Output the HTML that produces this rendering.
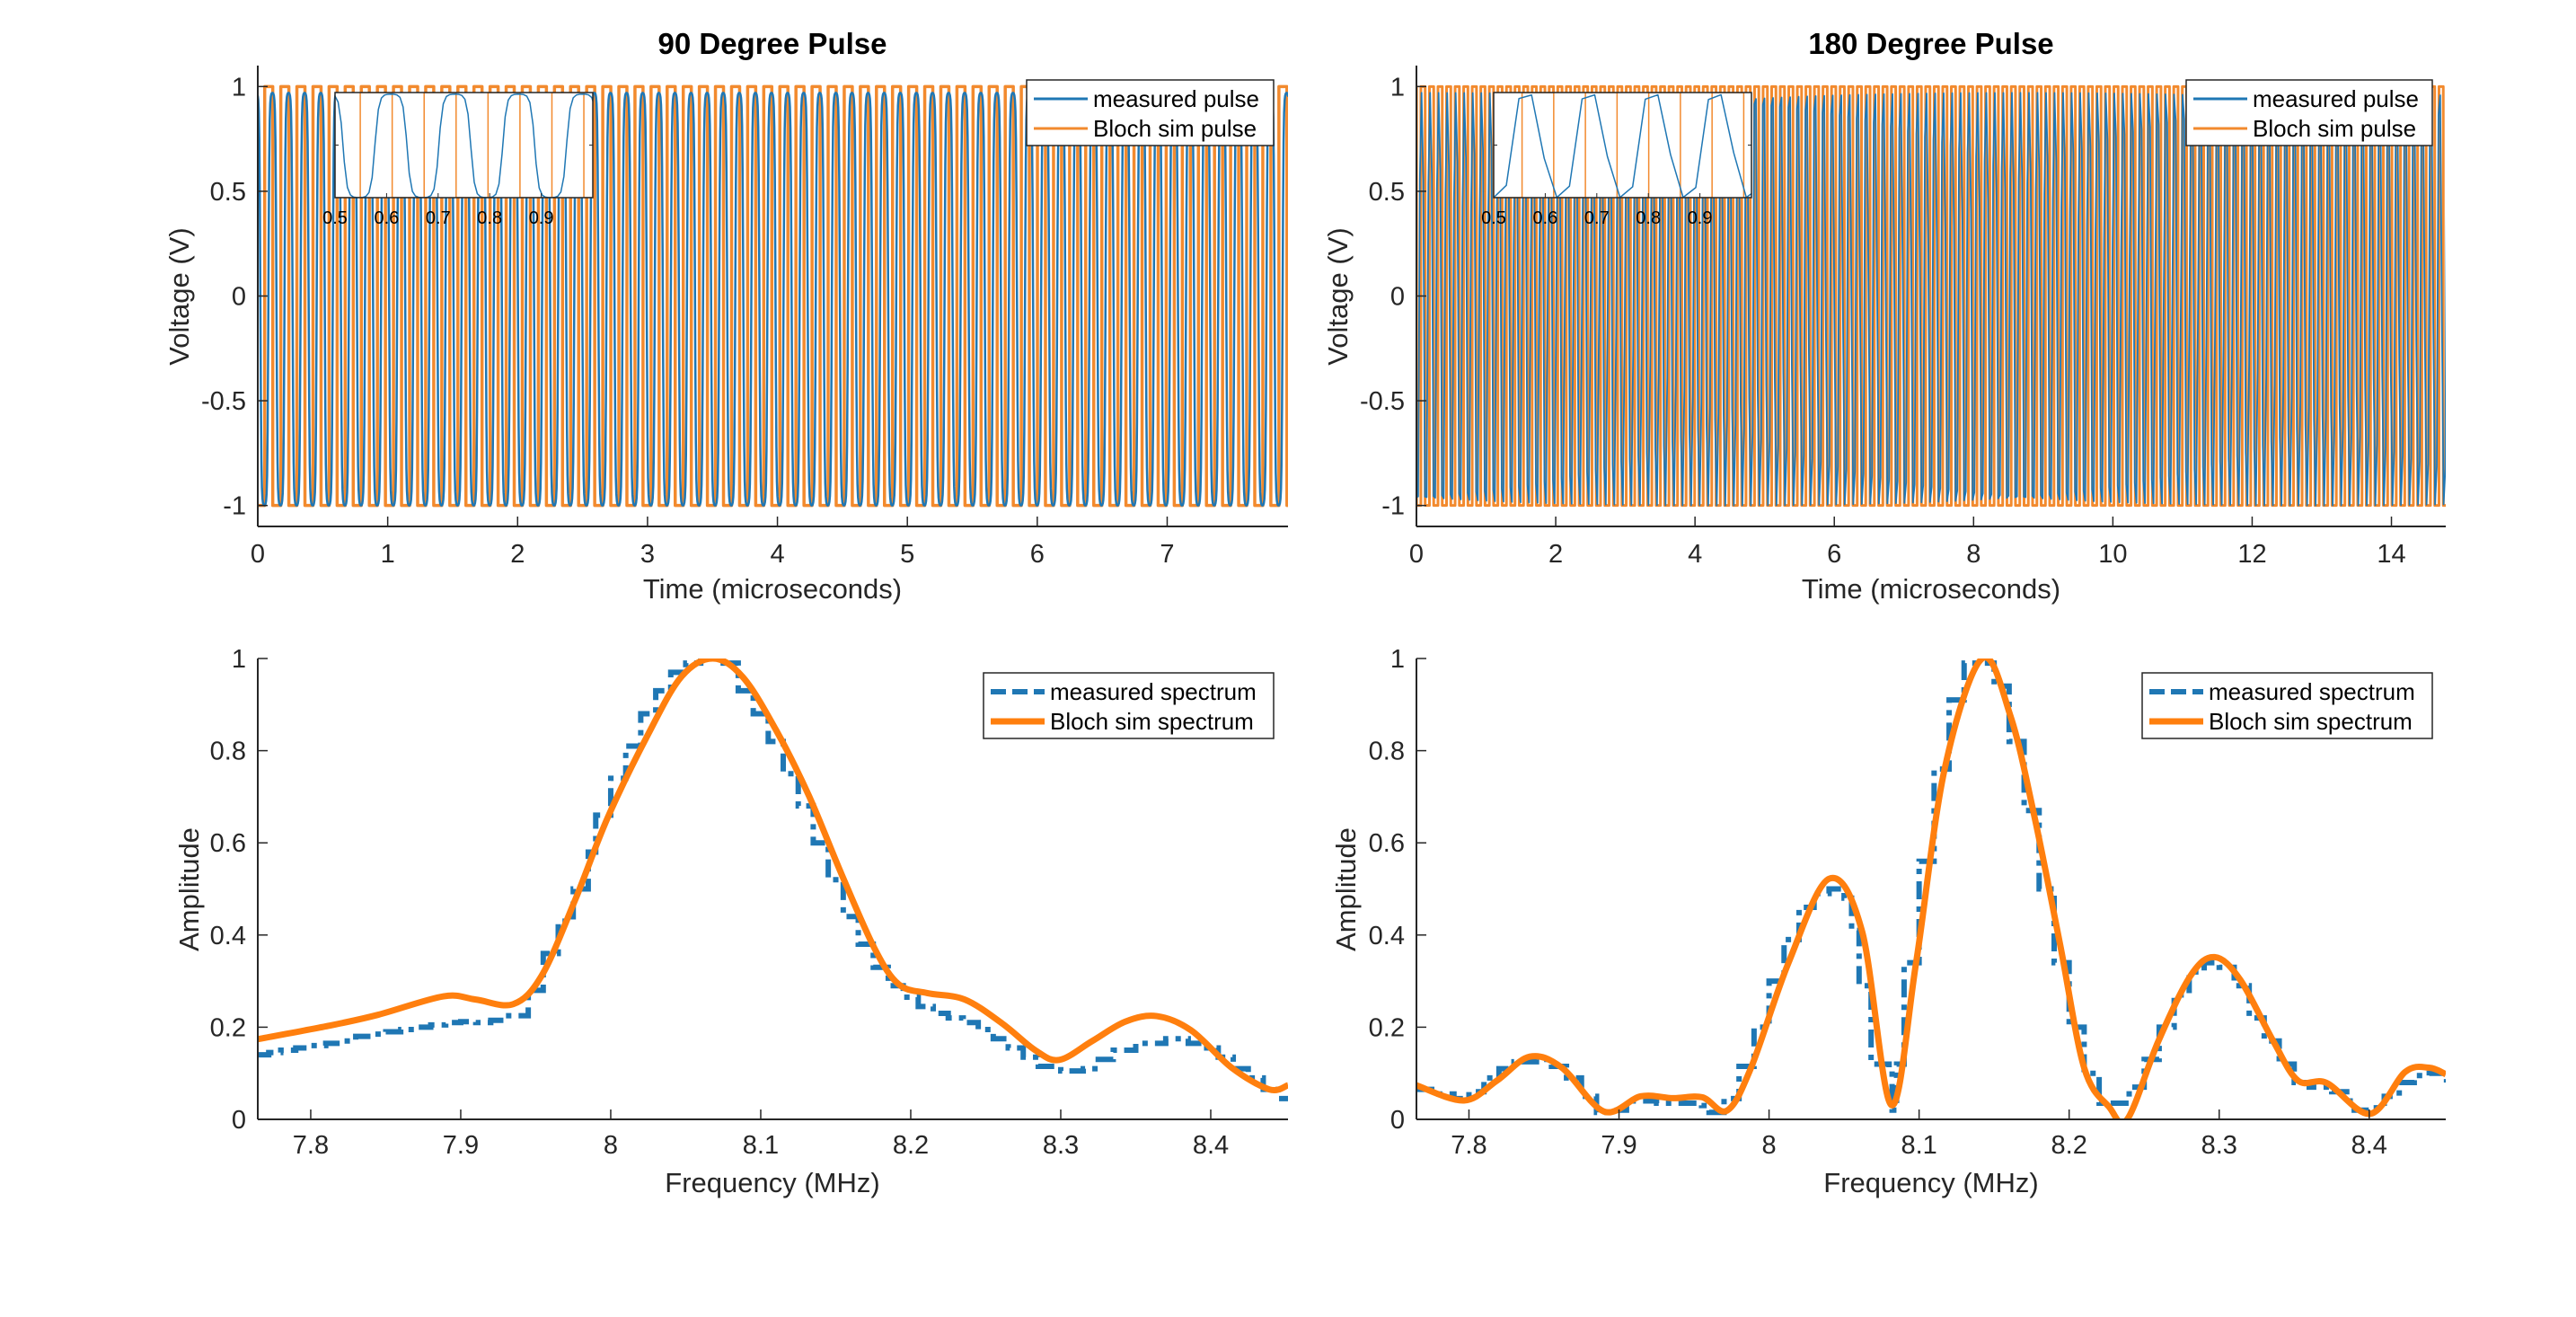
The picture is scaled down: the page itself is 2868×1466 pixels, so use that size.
<!DOCTYPE html>
<html><head><meta charset="utf-8"><style>
html,body{margin:0;padding:0;background:#fff;}
svg{display:block;font-family:"Liberation Sans",Arial,sans-serif;}
</style></head><body>
<svg id="fig" width="2868" height="1466" viewBox="0 0 2868 1466" xmlns="http://www.w3.org/2000/svg">
<rect width="2868" height="1466" fill="#fff"/>
<defs>
<clipPath id="c1"><rect x="287" y="73" width="1147" height="513"/></clipPath>
<clipPath id="c2"><rect x="1577" y="73" width="1146" height="513"/></clipPath>
<clipPath id="c3"><rect x="287" y="733" width="1147" height="513"/></clipPath>
<clipPath id="c4"><rect x="1577" y="733" width="1146" height="513"/></clipPath>
<clipPath id="ci1"><rect x="373" y="103" width="287" height="117"/></clipPath>
<clipPath id="ci2"><rect x="1663" y="103" width="287" height="117"/></clipPath>
</defs>
<g id="layer"></g>
</svg>
<script>
// ---------- data ----------
const pulse90Carrier = [8.07];
const pulse90Phase = [0.43];
const pulse90SampleStep = [0.004];
const pulse180Carrier = [8.14];
const pulse180Phase = [0.518];
const pulse180SampleStep = [0.0245];
const pulseXTicks90 = [0,1,2,3,4,5,6,7];
const pulseXTicks180 = [0,2,4,6,8,10,12,14];
const voltTicks = [-1,-0.5,0,0.5,1];
const voltTickLabels = ["-1","-0.5","0","0.5","1"];
const insetTicks = [0.5,0.6,0.7,0.8,0.9];
const insetTickLabels = ["0.5","0.6","0.7","0.8","0.9"];
const freqTicks = [7.8,7.9,8.0,8.1,8.2,8.3,8.4];
const freqTickLabels = ["7.8","7.9","8","8.1","8.2","8.3","8.4"];
const ampTicks = [0,0.2,0.4,0.6,0.8,1];
const ampTickLabels = ["0","0.2","0.4","0.6","0.8","1"];

const sim90F = [7.7647,7.812,7.845,7.8885,7.910,7.935,7.954,7.976,7.998,8.025,8.047,8.068,8.088,8.110,8.132,8.154,8.176,8.192,8.211,8.236,8.261,8.283,8.299,8.321,8.343,8.364,8.387,8.414,8.439,8.4515];
const sim90A = [0.174,0.203,0.227,0.267,0.26,0.25,0.312,0.474,0.655,0.836,0.96,1.0,0.96,0.846,0.703,0.531,0.37,0.293,0.274,0.26,0.208,0.15,0.129,0.17,0.212,0.224,0.193,0.112,0.065,0.074];
const meas90F = [7.7647,7.772,7.78,7.79,7.80,7.81,7.82,7.83,7.84,7.85,7.86,7.87,7.88,7.89,7.90,7.91,7.92,7.93,7.945,7.955,7.965,7.975,7.985,7.99,8.0,8.01,8.02,8.03,8.04,8.05,8.06,8.075,8.085,8.095,8.105,8.115,8.125,8.135,8.145,8.155,8.165,8.175,8.185,8.195,8.205,8.215,8.225,8.235,8.245,8.255,8.265,8.275,8.285,8.30,8.315,8.325,8.335,8.35,8.37,8.385,8.395,8.405,8.415,8.425,8.435,8.445,8.4515];
const meas90A = [0.14,0.145,0.15,0.155,0.16,0.165,0.17,0.18,0.185,0.19,0.195,0.20,0.205,0.21,0.212,0.21,0.215,0.225,0.28,0.36,0.43,0.50,0.58,0.66,0.74,0.81,0.88,0.93,0.97,0.99,1.0,0.99,0.93,0.88,0.82,0.75,0.68,0.60,0.52,0.44,0.38,0.33,0.29,0.265,0.245,0.23,0.22,0.21,0.195,0.175,0.155,0.135,0.115,0.105,0.11,0.13,0.15,0.165,0.175,0.165,0.155,0.135,0.11,0.09,0.065,0.045,0.05];
const sim180F = [7.765,7.7967,7.8186,7.8405,7.862,7.890,7.9145,7.936,7.9555,7.972,7.988,8.013,8.040,8.062,8.0815,8.098,8.117,8.142,8.161,8.177,8.194,8.210,8.2266,8.2387,8.2595,8.281,8.297,8.314,8.336,8.3525,8.3716,8.4007,8.424,8.44,8.451];
const sim180A = [0.074,0.041,0.084,0.136,0.112,0.017,0.05,0.046,0.048,0.019,0.112,0.34,0.522,0.408,0.031,0.34,0.76,1.0,0.874,0.655,0.379,0.112,0.027,0.0,0.17,0.312,0.352,0.303,0.17,0.084,0.079,0.012,0.103,0.112,0.098];
const meas180F = [7.765,7.78,7.79,7.80,7.81,7.82,7.83,7.845,7.855,7.865,7.875,7.885,7.895,7.905,7.915,7.925,7.94,7.955,7.96,7.97,7.98,7.99,8.0,8.01,8.02,8.03,8.04,8.05,8.055,8.06,8.068,8.08,8.082,8.085,8.09,8.10,8.11,8.12,8.13,8.14,8.15,8.16,8.17,8.18,8.19,8.20,8.21,8.22,8.23,8.24,8.25,8.26,8.27,8.28,8.29,8.30,8.31,8.32,8.33,8.34,8.35,8.36,8.375,8.385,8.39,8.40,8.41,8.42,8.43,8.44,8.4515];
const meas180A = [0.065,0.055,0.045,0.06,0.09,0.11,0.125,0.13,0.115,0.09,0.05,0.015,0.02,0.04,0.04,0.035,0.035,0.03,0.015,0.045,0.115,0.2,0.3,0.39,0.46,0.49,0.50,0.48,0.41,0.29,0.12,0.11,0.02,0.12,0.34,0.56,0.76,0.91,0.99,0.99,0.94,0.82,0.67,0.50,0.34,0.2,0.1,0.035,0.035,0.07,0.13,0.2,0.27,0.32,0.34,0.33,0.29,0.22,0.17,0.12,0.08,0.07,0.06,0.04,0.02,0.025,0.05,0.08,0.095,0.1,0.08];

// ---------- helpers ----------
const NS="http://www.w3.org/2000/svg";
const layer=document.getElementById('layer');
const BLUE="#1f77b4", ORANGE="#f28a2e", ORANGE2="#ff7f0e";
function mk(tag,attrs,parent){const e=document.createElementNS(NS,tag);for(const k in attrs)e.setAttribute(k,attrs[k]);(parent||layer).appendChild(e);return e;}
function axis(x0,x1,y0,y1,xmin,xmax,ymin,ymax){return {x0,x1,y0,y1,sx:v=>x0+(v-xmin)/(xmax-xmin)*(x1-x0),sy:v=>y1-(v-ymin)/(ymax-ymin)*(y1-y0)};}
function txt(s,attrs,name){const t=mk('text',attrs);t.textContent=s;


return t;}
function poly(pts,attrs,name){const d=pts.map(p=>p[0].toFixed(2)+","+p[1].toFixed(2)).join(" ");const e=mk('polyline',Object.assign({points:d,fill:"none"},attrs));


return e;}
function frame(a,name){
  const g=mk('g',{});
  
  
  mk('line',{x1:a.x0,y1:a.y0,x2:a.x0,y2:a.y1,stroke:"#262626","stroke-width":2},g);
  mk('line',{x1:a.x0,y1:a.y1,x2:a.x1,y2:a.y1,stroke:"#262626","stroke-width":2},g);
}
function xTicks(a,vals,labels,ly,name){vals.forEach((v,i)=>{const x=a.sx(v);
 const l=mk('line',{x1:x,y1:a.y1,x2:x,y2:a.y1-11,stroke:"#262626","stroke-width":1.5});
 
 
 txt(labels[i],{x:x,y:ly,"font-size":29,"text-anchor":"middle",fill:"#262626"},name+'-tick-label');});}
function yTicks(a,vals,labels,name){vals.forEach((v,i)=>{const y=a.sy(v);
 const l=mk('line',{x1:a.x0,y1:y,x2:a.x0+11,y2:y,stroke:"#262626","stroke-width":1.5});
 
 
 txt(labels[i],{x:a.x0-13,y:y+10,"font-size":29,"text-anchor":"end",fill:"#262626"},name+'-tick-label');});}
function square(a,f,ph,tmax,clip,w,name){const pts=[];const T=1/f;let k=-1;
 while(true){const tr=(k+ph)*T, tf=tr+T/2;
  pts.push([a.sx(tr),a.sy(-1)],[a.sx(tr),a.sy(1)],[a.sx(tf),a.sy(1)],[a.sx(tf),a.sy(-1)]);
  if(tr>tmax)break;k++;}
 poly(pts,{stroke:ORANGE,"stroke-width":w,"stroke-linejoin":"round","clip-path":"url(#"+clip+")"},name);}
function measured(a,f,ph,dt,tmin,tmax,sharp,clip,w,name){const pts=[];
 for(let t=tmin;t<=tmax+dt;t+=dt){const s=Math.sin(2*Math.PI*(f*t-ph));let v=Math.tanh(sharp*s)/Math.tanh(sharp);v=v>0?v*0.97:v*1.0;pts.push([a.sx(t),a.sy(v)]);}
 poly(pts,{stroke:BLUE,"stroke-width":w,"stroke-linejoin":"round","clip-path":"url(#"+clip+")"},name);}
function stepLine(a,F,A,attrs,name){const pts=[];for(let i=0;i<F.length;i++){if(i>0)pts.push([a.sx(F[i]),a.sy(A[i-1])]);pts.push([a.sx(F[i]),a.sy(A[i])]);}poly(pts,attrs,name);}
function smoothPath(a,F,A,attrs,name){const P=F.map((f,i)=>[a.sx(f),a.sy(A[i])]);let d="M"+P[0][0]+","+P[0][1];
 for(let i=0;i<P.length-1;i++){const p0=P[Math.max(i-1,0)],p1=P[i],p2=P[i+1],p3=P[Math.min(i+2,P.length-1)];
 d+=" C"+(p1[0]+(p2[0]-p0[0])/6)+","+(p1[1]+(p2[1]-p0[1])/6)+" "+(p2[0]-(p3[0]-p1[0])/6)+","+(p2[1]-(p3[1]-p1[1])/6)+" "+p2[0]+","+p2[1];}
 const e=mk('path',Object.assign({d:d,fill:"none"},attrs));
 
 }
function legend(x,y,w,h,items,name){const g=mk('g',{});
 
 
 mk('rect',{x:x,y:y,width:w,height:h,fill:"#fff",stroke:"#262626","stroke-width":1.5},g);
 items.forEach((it,i)=>{const yy=y+21+i*33;
  mk('line',Object.assign({x1:x+8,y1:yy,x2:x+68,y2:yy},it.style),g);
  const t=mk('text',{x:x+74,y:yy+9,"font-size":26,fill:"#000"},g);t.textContent=it.label;
  
  });}

// ---------- top-left: 90 pulse ----------
const A1=axis(287,1434,73,586,0,7.93,-1.1,1.1);
square(A1,pulse90Carrier[0],pulse90Phase[0],7.93,"c1",3.5,"bloch-pulse-90");
measured(A1,pulse90Carrier[0],pulse90Phase[0]+0.25-0.02,pulse90SampleStep[0],0,7.93,2.6,"c1",2.5,"measured-pulse-90");
frame(A1,"axes-90-pulse");
xTicks(A1,pulseXTicks90,pulseXTicks90.map(String),626,"x-axis-90-pulse");
yTicks(A1,voltTicks,voltTickLabels,"y-axis-90-pulse");
txt("90 Degree Pulse",{x:860,y:60,"font-size":33,"font-weight":"bold","text-anchor":"middle"},"title-90-pulse");
txt("Time (microseconds)",{x:860,y:666,"font-size":31,"text-anchor":"middle",fill:"#262626"},"x-axis-title-90-pulse");
txt("Voltage (V)",{x:0,y:0,"font-size":31,"text-anchor":"middle",fill:"#262626",transform:"translate(210,330) rotate(-90)"},"y-axis-title-90-pulse");
const I1=axis(373,660,103,220,0.5,1.0,-1,1);
mk('rect',{x:373,y:103,width:287,height:117,fill:"#fff"});
square(I1,pulse90Carrier[0],pulse90Phase[0],1.0,"ci1",1.5,"inset-bloch-pulse-90");
measured(I1,pulse90Carrier[0],pulse90Phase[0]+0.25-0.02,0.006,0.5,1.0,2.6,"ci1",1.5,"inset-measured-pulse-90");
mk('rect',{x:373,y:103,width:287,height:117,fill:"none",stroke:"#262626","stroke-width":1.5});
insetTicks.forEach((v,i)=>{const x=I1.sx(v);mk('line',{x1:x,y1:220,x2:x,y2:215,stroke:"#262626","stroke-width":1});txt(insetTickLabels[i],{x:x,y:249,"font-size":20,"text-anchor":"middle"},"inset-90-tick-label");});
mk('line',{x1:373,y1:161.5,x2:377,y2:161.5,stroke:"#262626"});mk('line',{x1:656,y1:161.5,x2:660,y2:161.5,stroke:"#262626"});
legend(1143,89,275,73,[{label:"measured pulse",style:{stroke:BLUE,"stroke-width":3}},{label:"Bloch sim pulse",style:{stroke:ORANGE,"stroke-width":3}}],"legend-90-pulse");

// ---------- top-right: 180 pulse ----------
const A2=axis(1577,2723,73,586,0,14.78,-1.1,1.1);
square(A2,pulse180Carrier[0],pulse180Phase[0],14.78,"c2",3,"bloch-pulse-180");
measured(A2,pulse180Carrier[0],pulse180Phase[0]-0.17,pulse180SampleStep[0],0,14.78,2.0,"c2",1.8,"measured-pulse-180");
frame(A2,"axes-180-pulse");
xTicks(A2,pulseXTicks180,pulseXTicks180.map(String),626,"x-axis-180-pulse");
yTicks(A2,voltTicks,voltTickLabels,"y-axis-180-pulse");
txt("180 Degree Pulse",{x:2150,y:60,"font-size":33,"font-weight":"bold","text-anchor":"middle"},"title-180-pulse");
txt("Time (microseconds)",{x:2150,y:666,"font-size":31,"text-anchor":"middle",fill:"#262626"},"x-axis-title-180-pulse");
txt("Voltage (V)",{x:0,y:0,"font-size":31,"text-anchor":"middle",fill:"#262626",transform:"translate(1500,330) rotate(-90)"},"y-axis-title-180-pulse");
const I2=axis(1663,1950,103,220,0.5,1.0,-1,1);
mk('rect',{x:1663,y:103,width:287,height:117,fill:"#fff"});
square(I2,pulse180Carrier[0],pulse180Phase[0],1.0,"ci2",1.5,"inset-bloch-pulse-180");
measured(I2,pulse180Carrier[0],pulse180Phase[0]-0.17,pulse180SampleStep[0],0.5-0.0245,1.0,2.0,"ci2",1.5,"inset-measured-pulse-180");
mk('rect',{x:1663,y:103,width:287,height:117,fill:"none",stroke:"#262626","stroke-width":1.5});
insetTicks.forEach((v,i)=>{const x=I2.sx(v);mk('line',{x1:x,y1:220,x2:x,y2:215,stroke:"#262626","stroke-width":1});txt(insetTickLabels[i],{x:x,y:249,"font-size":20,"text-anchor":"middle"},"inset-180-tick-label");});
mk('line',{x1:1663,y1:161.5,x2:1667,y2:161.5,stroke:"#262626"});mk('line',{x1:1946,y1:161.5,x2:1950,y2:161.5,stroke:"#262626"});
legend(2434,89,274,73,[{label:"measured pulse",style:{stroke:BLUE,"stroke-width":3}},{label:"Bloch sim pulse",style:{stroke:ORANGE,"stroke-width":3}}],"legend-180-pulse");

// ---------- bottom-left: 90 spectrum ----------
const A3=axis(287,1434,733,1246,7.7647,8.4515,0,1);
stepLine(A3,meas90F,meas90A,{stroke:BLUE,"stroke-width":6,"stroke-dasharray":"20 8 6 8","clip-path":"url(#c3)"},"measured-spectrum-90");
smoothPath(A3,sim90F,sim90A,{stroke:ORANGE2,"stroke-width":7,"stroke-linejoin":"round","clip-path":"url(#c3)"},"bloch-spectrum-90");
frame(A3,"axes-90-spectrum");
xTicks(A3,freqTicks,freqTickLabels,1284,"x-axis-90-spectrum");
yTicks(A3,ampTicks,ampTickLabels,"y-axis-90-spectrum");
txt("Frequency (MHz)",{x:860,y:1327,"font-size":31,"text-anchor":"middle",fill:"#262626"},"x-axis-title-90-spectrum");
txt("Amplitude",{x:0,y:0,"font-size":31,"text-anchor":"middle",fill:"#262626",transform:"translate(221,990) rotate(-90)"},"y-axis-title-90-spectrum");
legend(1095,749,323,73,[{label:"measured spectrum",style:{stroke:BLUE,"stroke-width":6,"stroke-dasharray":"17 7"}},{label:"Bloch sim spectrum",style:{stroke:ORANGE2,"stroke-width":7}}],"legend-90-spectrum");

// ---------- bottom-right: 180 spectrum ----------
const A4=axis(1577,2723,733,1246,7.765,8.451,0,1);
stepLine(A4,meas180F,meas180A,{stroke:BLUE,"stroke-width":6,"stroke-dasharray":"20 8 6 8","clip-path":"url(#c4)"},"measured-spectrum-180");
smoothPath(A4,sim180F,sim180A,{stroke:ORANGE2,"stroke-width":7,"stroke-linejoin":"round","clip-path":"url(#c4)"},"bloch-spectrum-180");
frame(A4,"axes-180-spectrum");
xTicks(A4,freqTicks,freqTickLabels,1284,"x-axis-180-spectrum");
yTicks(A4,ampTicks,ampTickLabels,"y-axis-180-spectrum");
txt("Frequency (MHz)",{x:2150,y:1327,"font-size":31,"text-anchor":"middle",fill:"#262626"},"x-axis-title-180-spectrum");
txt("Amplitude",{x:0,y:0,"font-size":31,"text-anchor":"middle",fill:"#262626",transform:"translate(1509,990) rotate(-90)"},"y-axis-title-180-spectrum");
legend(2385,749,323,73,[{label:"measured spectrum",style:{stroke:BLUE,"stroke-width":6,"stroke-dasharray":"17 7"}},{label:"Bloch sim spectrum",style:{stroke:ORANGE2,"stroke-width":7}}],"legend-180-spectrum");
</script>
</body></html>
